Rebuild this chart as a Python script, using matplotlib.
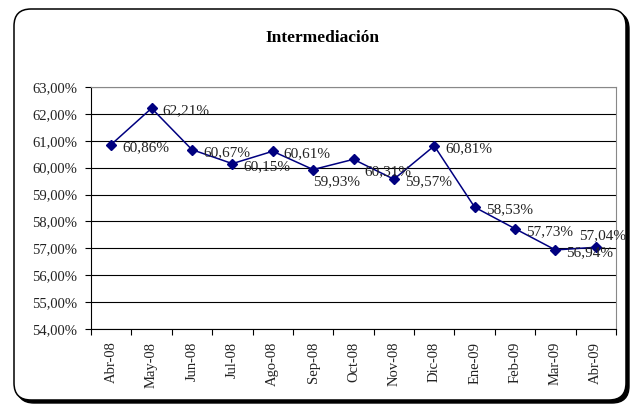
import matplotlib
matplotlib.use("Agg")
import matplotlib.pyplot as plt
from matplotlib.patches import FancyBboxPatch
from matplotlib.ticker import FuncFormatter

plt.rcParams['font.family'] = ['Liberation Serif', 'DejaVu Serif']

months = ["Abr-08", "May-08", "Jun-08", "Jul-08", "Ago-08", "Sep-08", "Oct-08",
          "Nov-08", "Dic-08", "Ene-09", "Feb-09", "Mar-09", "Abr-09"]
values = [60.86, 62.21, 60.67, 60.15, 60.61, 59.93, 60.31,
          59.57, 60.81, 58.53, 57.73, 56.94, 57.04]
# label placement: r = right, b = below, a = above
label_pos = ["r", "r", "r", "r", "r", "b", "r", "r", "r", "r", "r", "r", "a"]

fig = plt.figure(figsize=(6.32, 4.07), dpi=100)

# rounded frame with shadow (inch units)
shadow = FancyBboxPatch((0.17, 0.04), 6.12, 3.91, boxstyle="round,pad=0,rounding_size=0.17",
                        transform=fig.dpi_scale_trans, facecolor="black", edgecolor="black",
                        lw=1, zorder=0)
frame = FancyBboxPatch((0.14, 0.07), 6.12, 3.91, boxstyle="round,pad=0,rounding_size=0.17",
                       transform=fig.dpi_scale_trans, facecolor="white", edgecolor="black",
                       lw=1.1, zorder=1)
fig.patches.extend([shadow, frame])

ax = fig.add_axes([91 / 632, 1 - 329 / 407, (616 - 91) / 632, (329 - 87) / 407])
ax.set_zorder(2)
ax.set_facecolor("white")

x = list(range(len(values)))
ax.plot(x, values, color="#000080", lw=1.1, marker="D", markersize=5,
        markerfacecolor="#000080", markeredgecolor="#000080", zorder=3)

for xi, v, p in zip(x, values, label_pos):
    txt = f"{v:.2f}%".replace(".", ",")
    if p == "r":
        off = (8, -9 if months[xi] == "Oct-08" else -2)
    elif p == "b":
        off = (0, -9)
    else:
        off = (-12, 8)
    ax.annotate(txt, (xi, v), xytext=off, textcoords="offset points",
                ha="left", va="center", fontsize=11, color="#222222")

ax.set_xlim(-0.5, len(values) - 0.5)
ax.set_ylim(54, 63)
ax.set_yticks(range(54, 64))
ax.yaxis.set_major_formatter(FuncFormatter(lambda v, _: f"{v:.2f}%".replace(".", ",")))
ax.grid(axis="y", color="black", lw=0.8)
ax.set_axisbelow(True)

ax.set_xticks([i - 0.5 for i in range(len(values) + 1)])
ax.set_xticklabels([])
ax.set_xticks(x, minor=True)
ax.set_xticklabels(months, minor=True, rotation=90, fontsize=10.5, color="#222222")
ax.tick_params(axis="x", which="minor", length=0, pad=9)
ax.tick_params(axis="x", which="major", length=4, direction="out")
ax.tick_params(axis="y", length=4, direction="out", labelsize=10.5, labelcolor="#222222", pad=6)

for s in ["top", "right"]:
    ax.spines[s].set_color("#888888")
    ax.spines[s].set_linewidth(0.8)
ax.spines["left"].set_color("black")
ax.spines["bottom"].set_color("black")

fig.text(322 / 632, 1 - 38 / 407, "Intermediación", ha="center", va="center",
         fontsize=12.5, fontweight="bold")

fig.savefig("out.png", dpi=100)
